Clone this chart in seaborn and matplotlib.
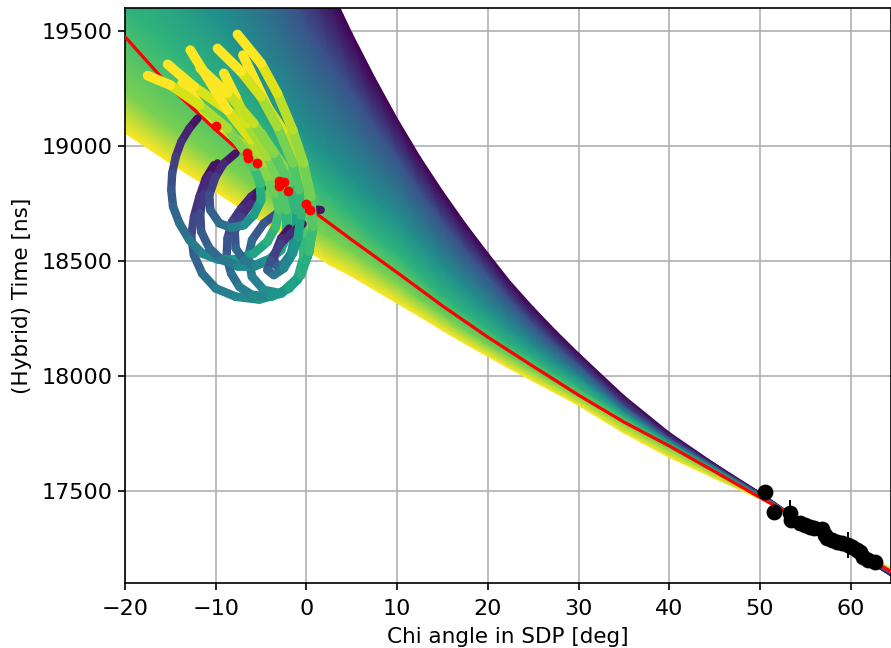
import numpy as np
import pandas as pd
import matplotlib
matplotlib.use("Agg")
import matplotlib.pyplot as plt
from matplotlib.collections import LineCollection
import seaborn as sns

# fan of fit curves: chi grid + one time row per curve colour
fan_chi = [-20, -15, -10, -5, 0, 2.5, 5, 7.5, 10, 12.5, 15, 17.5, 20, 22.5, 25, 27.5, 30, 35, 40, 45, 50, 55, 60, 64.45]
fan_colour = [0.0, 0.25, 0.5, 0.65, 0.8, 1.0]
fan_t_00 = [22200, 21500, 20900, 20400, 19920, 19700, 19492, 19300, 19120, 18955, 18805, 18665, 18535, 18410, 18300, 18197, 18100, 17915, 17755, 17620, 17495, 17360, 17240, 17130]
fan_t_25 = [21000, 20650, 20300, 19910, 19520, 19375, 19230, 19085, 18950, 18800, 18665, 18545, 18435, 18325, 18220, 18130, 18045, 17868, 17728, 17607, 17488, 17362, 17245, 17138]
fan_t_50 = [20100, 19830, 19570, 19290, 19040, 18950, 18860, 18765, 18680, 18570, 18470, 18375, 18288, 18205, 18125, 18055, 17991, 17842, 17714, 17598, 17480, 17365, 17250, 17145]
fan_t_65 = [19600, 19420, 19250, 19060, 18880, 18790, 18700, 18610, 18530, 18435, 18345, 18270, 18200, 18130, 18070, 18005, 17948, 17820, 17702, 17590, 17475, 17367, 17255, 17152]
fan_t_80 = [19230, 19080, 18945, 18800, 18665, 18600, 18540, 18470, 18405, 18330, 18262, 18195, 18135, 18078, 18022, 17965, 17912, 17795, 17685, 17580, 17470, 17370, 17260, 17158]
fan_t_100 = [19056, 18925, 18800, 18672, 18548, 18485, 18433, 18375, 18316, 18258, 18198, 18140, 18085, 18030, 17977, 17925, 17872, 17752, 17646, 17555, 17465, 17372, 17265, 17165]

# red reference curve
red_chi = [-20, -15, -10, -5, 0, 5, 10, 15, 20, 25, 30, 35, 40, 45, 50, 55, 60, 64.45]
red_t = [19475, 19255, 19070, 18895, 18738, 18592, 18450, 18305, 18169, 18042, 17917, 17800, 17696, 17585, 17472, 17362, 17250, 17150]

# red points (FD)
fd_chi = [-10, -6.5, -6.4, -5.4, -3.0, -2.5, -3.0, -2.0, -0.1, 0.4]
fd_t = [19086, 18971, 18947, 18924, 18849, 18842, 18828, 18806, 18746, 18720]

# black points (SD) with errors
sd_chi = [50.55, 51.5, 53.3, 53.4, 54.4, 55.0, 55.5, 56.0, 56.8, 57.2, 57.4, 58.0, 58.5, 59.0, 59.7, 60.2, 60.7, 61.0, 61.4, 61.9, 62.7]
sd_t = [17497, 17410, 17403, 17374, 17360, 17352, 17345, 17340, 17335, 17310, 17294, 17288, 17280, 17275, 17265, 17255, 17243, 17235, 17215, 17200, 17193]
sd_err = [30, 30, 60, 20, 15, 15, 15, 15, 30, 15, 15, 15, 15, 15, 55, 15, 15, 15, 15, 15, 15]

# spiral tracks, purple start to yellow tail
s1_chi = [-12.0, -12.9, -13.8, -14.4, -14.8, -14.9, -14.7, -14.0, -12.9, -11.5, -9.8, -7.8, -5.8, -4.3, -3.4, -3.0, -3.4, -4.3, -5.6, -7.2, -9.1, -11.3, -13.7]
s1_t = [19120, 19077, 19019, 18954, 18881, 18809, 18736, 18664, 18591, 18533, 18507, 18507, 18533, 18584, 18649, 18722, 18794, 18867, 18939, 19011, 19077, 19156, 19272]
s2_chi = [-10.2, -11.1, -11.8, -12.4, -12.7, -12.4, -11.5, -10, -7.8, -5.2, -2.8, -1, 0.1, 0.7, 0.5, -0.3, -1.4, -2.6, -4.3, -7]
s2_t = [18917, 18859, 18780, 18693, 18606, 18526, 18446, 18381, 18345, 18333, 18359, 18425, 18519, 18635, 18736, 18852, 18968, 19069, 19171, 19395]
s3_chi = [-9.8, -10.6, -11.3, -11.7, -11.6, -10.7, -9.3, -7.6, -5.8, -3.9, -2.5, -1.9, -1.9, -2.8, -4.3, -6.1, -8.7, -12.8]
s3_t = [18925, 18874, 18794, 18707, 18628, 18555, 18504, 18480, 18480, 18512, 18577, 18649, 18736, 18823, 18925, 19026, 19156, 19417]
s4_chi = [-7.8, -9.1, -10, -10.7, -10.6, -9.6, -8.3, -6.9, -5.8, -5, -5.1, -5.8, -6.9, -8.7, -11.8, -15, -17.5]
s4_t = [18968, 18925, 18867, 18787, 18722, 18664, 18645, 18656, 18700, 18765, 18838, 18910, 18983, 19077, 19178, 19265, 19306]
s5_chi = [-4.9, -6.1, -7.2, -8.2, -8.7, -8.8, -8.3, -7.4, -6, -3.9, -1.9, -0.6, 0.3, 0.7, 0.5, -0.3, -1.5, -3.2, -5, -7.6]
s5_t = [18816, 18780, 18729, 18671, 18599, 18519, 18446, 18388, 18352, 18345, 18381, 18439, 18541, 18649, 18780, 18925, 19069, 19229, 19359, 19485]
s6_chi = [-0.4, -1.5, -2.8, -3.9, -4.3, -3.6, -2.5, -1.5, -0.9, -0.6, -0.8, -1.5, -3.2, -5, -7.2, -9.8]
s6_t = [18661, 18628, 18577, 18504, 18461, 18439, 18468, 18533, 18606, 18700, 18809, 18925, 19084, 19214, 19323, 19424]
s7_chi = [1.6, 0.1, -1.4, -3, -4.7, -6, -6.4, -6, -4.7, -2.8, -1, -0.4, -0.4, -1, -2.5, -5, -8.7, -12.4, -15.3]
s7_t = [18722, 18727, 18729, 18714, 18664, 18591, 18519, 18432, 18374, 18359, 18417, 18504, 18620, 18765, 18910, 19055, 19156, 19258, 19355]
s8_chi = [-5, -6.1, -7.2, -7.9, -7.8, -6.9, -5.6, -4.3, -2.8, -2.2, -2.2, -2.8, -4.3, -6.5, -7.8, -9.1]
s8_t = [18809, 18751, 18693, 18628, 18555, 18504, 18480, 18497, 18548, 18628, 18722, 18823, 18954, 19098, 19214, 19316]
s9_chi = [-1.9, -2.8, -3.6, -3.4, -2.6, -1.7, -1.2, -1.2, -1.9, -3.6, -5.8, -8.7, -11.7]
s9_t = [18642, 18599, 18519, 18483, 18483, 18533, 18620, 18722, 18838, 18968, 19098, 19229, 19338]

x_ticks = [-20, -10, 0, 10, 20, 30, 40, 50, 60]
y_ticks = [17500, 18000, 18500, 19000, 19500]

sns.set_theme(style="ticks", font="DejaVu Sans", rc={
    "font.size": 15,
    "text.color": "black",
    "axes.labelcolor": "black",
    "xtick.color": "black",
    "ytick.color": "black",
    "axes.edgecolor": "black",
    "axes.linewidth": 1.2,
    "xtick.major.size": 5.2,
    "ytick.major.size": 5.2,
    "xtick.major.width": 1.2,
    "ytick.major.width": 1.2,
})

fig = plt.figure(figsize=(8.91, 6.48), dpi=100)
ax = fig.add_axes([125 / 891, 1 - 583 / 648, 766 / 891, 575 / 648])

# fan drawn as one smooth mesh
fan_rows = np.array([fan_t_00, fan_t_25, fan_t_50, fan_t_65, fan_t_80, fan_t_100], dtype=float)
fan_x = np.tile(fan_chi, (len(fan_colour), 1))
fan_c = np.tile(np.array(fan_colour)[:, None], (1, len(fan_chi)))
ax.pcolormesh(fan_x, fan_rows, fan_c, shading="gouraud", cmap="viridis", vmin=0, vmax=1, zorder=2)

sns.lineplot(x=red_chi, y=red_t, color="red", linewidth=2.3, ax=ax, zorder=3, errorbar=None, sort=False)

# s7 first, its purple start sits behind the other tracks
tracks = [(s7_chi, s7_t), (s2_chi, s2_t), (s5_chi, s5_t), (s1_chi, s1_t), (s3_chi, s3_t),
          (s8_chi, s8_t), (s9_chi, s9_t), (s6_chi, s6_t), (s4_chi, s4_t)]
for chi, t in tracks:
    pts = np.column_stack([chi, t])
    segs = np.stack([pts[:-1], pts[1:]], axis=1)
    colours = plt.cm.viridis(np.linspace(0.05, 1, len(segs)))
    # tracks get a bit wider towards the tail
    widths = np.linspace(5.8, 7.0, len(segs))
    ax.add_collection(LineCollection(segs, colors=colours, linewidths=widths, capstyle="round", zorder=4))

fd = pd.DataFrame({"chi": fd_chi, "t": fd_t})
sns.scatterplot(data=fd, x="chi", y="t", color="red", s=50, linewidth=0, ax=ax, zorder=5)

ax.errorbar(sd_chi, sd_t, yerr=sd_err, fmt="none", ecolor="black", elinewidth=1.4, zorder=6)
sd = pd.DataFrame({"chi": sd_chi, "t": sd_t})
sns.scatterplot(data=sd, x="chi", y="t", color="black", s=130, linewidth=0, ax=ax, zorder=6)

ax.set_xlim(-20, 64.45)
ax.set_ylim(17100, 19600)
ax.set_xticks(x_ticks)
ax.set_yticks(y_ticks)
ax.tick_params(labelsize=16)
ax.tick_params(axis="x", pad=6)
ax.grid(True, color="#b0b0b0", linewidth=1.2)
ax.set_axisbelow(True)
ax.set_xlabel("Chi angle in SDP [deg]", fontsize=15.5, labelpad=6)
ax.set_ylabel("(Hybrid) Time [ns]", fontsize=15.5, labelpad=7)

fig.savefig("out.png", dpi=100)
